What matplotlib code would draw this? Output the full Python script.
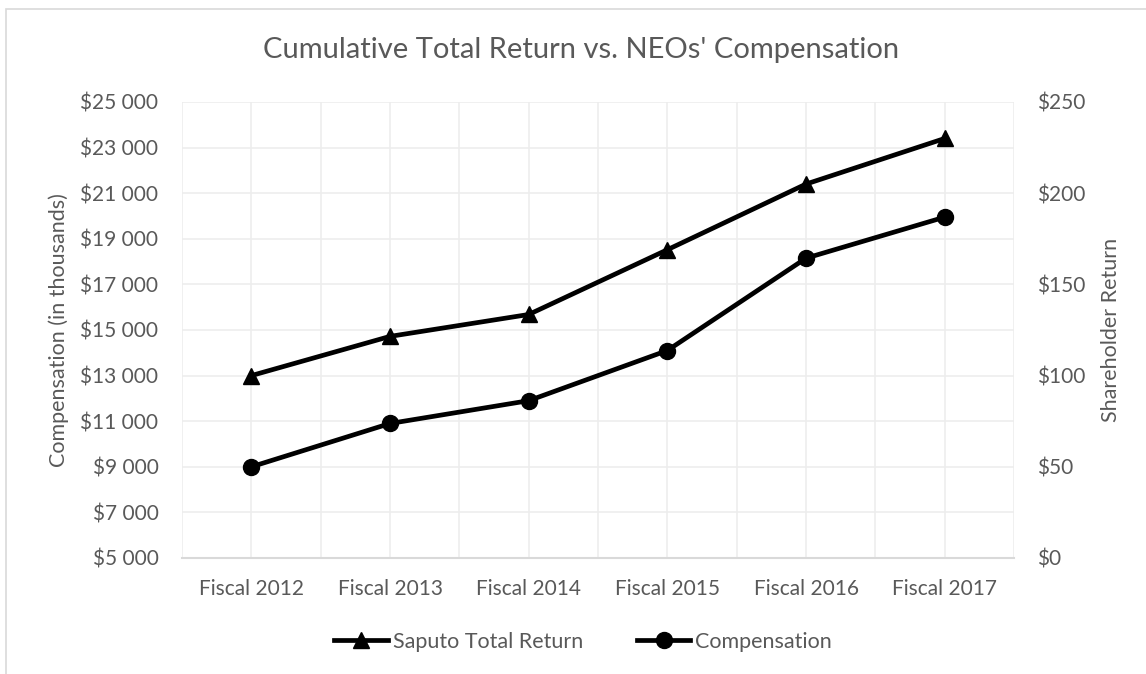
import matplotlib.pyplot as plt
from matplotlib.patches import Rectangle
from matplotlib.ticker import FuncFormatter

# data
years = ["Fiscal 2012", "Fiscal 2013", "Fiscal 2014", "Fiscal 2015", "Fiscal 2016", "Fiscal 2017"]
total_return = [100, 121.5, 133.5, 169, 205, 230]          # right axis, $
compensation = [9000, 10900, 11900, 14100, 18150, 19950]   # left axis, $ thousands

plt.rcParams['font.family'] = ['Lato', 'DejaVu Sans']
txt = '#595959'
grid_c = '#EDEDED'

fig = plt.figure(figsize=(11.46, 6.74), dpi=100)
ax = fig.add_axes([182 / 1146, 1 - 558 / 674, (1014 - 182) / 1146, (558 - 102) / 674])
ax2 = ax.twinx()

x = list(range(len(years)))

# chart border (left and top edges visible)
fig.patches.append(Rectangle((6 / 1146, -0.1), 1.2, 1 - 9 / 674 + 0.1, transform=fig.transFigure,
                             fill=False, edgecolor='#D9D9D9', linewidth=1.2))

ln1, = ax2.plot(x, total_return, color='black', linewidth=3.4, marker='^', markersize=11,
                label='Saputo Total Return', zorder=3)
ln2, = ax.plot(x, compensation, color='black', linewidth=3.4, marker='o', markersize=11.5,
               label='Compensation', zorder=3)

ax.set_xlim(-0.5, 5.5)
ax.set_ylim(5000, 25000)
ax.set_yticks(range(5000, 25001, 2000))
ax2.set_ylim(0, 250)
ax2.set_yticks(range(0, 251, 50))

ax.yaxis.set_major_formatter(FuncFormatter(lambda v, p: '$' + f"{int(v):,}".replace(',', ' ')))
ax2.yaxis.set_major_formatter(FuncFormatter(lambda v, p: f"${int(v)}"))

ax.set_xticks(x)
ax.set_xticklabels(years)
ax.set_xticks([i - 0.5 for i in range(len(years) + 1)], minor=True)

ax.grid(axis='y', color=grid_c, linewidth=1.2, zorder=0)
ax.grid(axis='x', which='both', color=grid_c, linewidth=1.2, zorder=0)
ax.set_axisbelow(True)

for a in (ax, ax2):
    for s in a.spines.values():
        s.set_visible(False)
    a.tick_params(length=0, labelsize=15, labelcolor=txt)
ax.tick_params(which='minor', length=0)
ax.tick_params(axis='y', pad=17)
ax.tick_params(axis='x', pad=15)
ax2.tick_params(axis='y', pad=16.5)
ax.spines['bottom'].set_visible(True)
ax.spines['bottom'].set_color('#D9D9D9')
ax.spines['bottom'].set_linewidth(1.5)

ax.set_ylabel("Compensation (in thousands)", fontsize=15.5, color=txt, labelpad=8)
ax2.set_ylabel("Shareholder Return", fontsize=15.5, color=txt, labelpad=11)

fig.text(581 / 1146, 1 - 50 / 674, "Cumulative Total Return vs. NEOs' Compensation",
         ha='center', va='center', fontsize=21, color=txt)

leg = fig.legend(handles=[ln1, ln2], loc='center', bbox_to_anchor=(583 / 1146, 1 - 642 / 674),
                 ncol=2, frameon=False, fontsize=15.5, handlelength=2.5, handletextpad=0.2,
                 columnspacing=2.5)
for t in leg.get_texts():
    t.set_color(txt)

fig.savefig("out.png", dpi=100)
